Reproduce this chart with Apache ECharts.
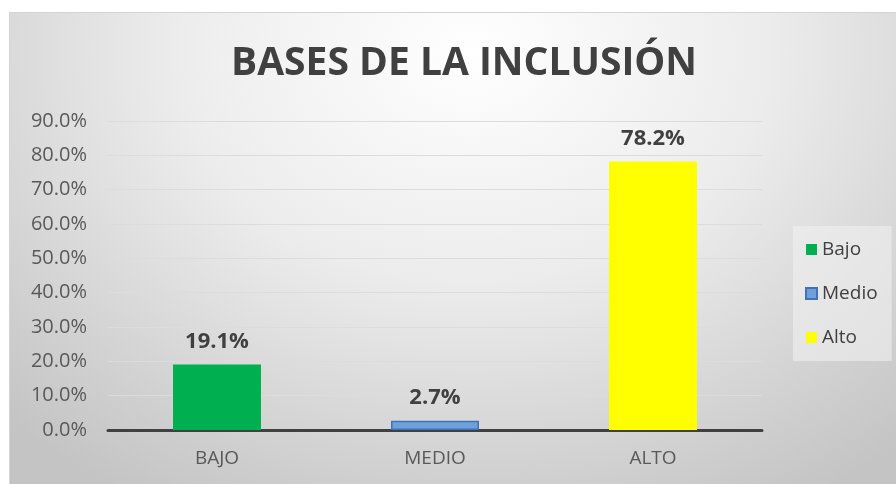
<!DOCTYPE html>
<html><head><meta charset="utf-8">
<script src="https://cdn.jsdelivr.net/npm/echarts@6/dist/echarts.min.js"></script>
<style>
html,body{margin:0;padding:0;background:#fff;}
#frame{position:absolute;left:9px;top:12px;width:886px;height:471px;border:1px solid #d4d4d4;border-right:none;border-bottom:none;
background:radial-gradient(ellipse 75% 110% at 52% 8%, #ffffff 0%, #ececec 45%, #d2d2d2 80%, #c4c4c4 100%);}
#chart{position:absolute;left:0;top:0;width:886px;height:471px;}
</style></head><body>
<div id="frame"><div id="chart"></div></div>
<script>
const titleText = 'BASES DE LA INCLUSIÓN';
const categories = ['BAJO', 'MEDIO', 'ALTO'];
const seriesNames = ['Bajo', 'Medio', 'Alto'];
const values = [19.1, 2.7, 78.2];
const yTicks = {min: 0, max: 90, interval: 10};
const colors = ['#00B050', '#6FA0DA', '#FFFF00'];

const chart = echarts.init(document.getElementById('chart'), null, {renderer: 'canvas'});
const series = seriesNames.map((name, i) => ({
  name: name,
  type: 'bar',
  stack: 'one',
  barWidth: 88,
  data: categories.map((c, j) => j === i ? values[i] : '-'),
  itemStyle: i === 1 ? {color: colors[i], borderColor: '#3F73B6', borderWidth: 1.5} : {color: colors[i]},
  label: {
    show: true, position: 'top', distance: 12,
    formatter: p => p.value.toFixed(1) + '%',
    fontFamily: 'Open Sans', fontWeight: 'bold', fontSize: 22, color: '#404040'
  }
}));
chart.setOption({
  backgroundColor: 'transparent',
  animation: false,
  graphic: [{
    type: 'text', left: 221, top: 31,
    style: {text: titleText, fontFamily: 'Open Sans', fontWeight: 'bold', fontSize: 39, fill: '#404040'}
  }],
  legend: {
    orient: 'vertical', left: 783, top: 213,
    backgroundColor: 'rgba(240,240,240,0.6)',
    padding: [14, 14, 14, 12],
    itemWidth: 11, itemHeight: 11, itemGap: 25,
    icon: 'rect',
    textStyle: {fontFamily: 'Open Sans', fontSize: 19, color: '#404040', padding: [0, 0, 0, 0]},
    data: seriesNames
  },
  grid: {left: 98, right: 134, top: 108, bottom: 54},
  xAxis: {
    type: 'category', data: categories,
    axisLine: {lineStyle: {color: '#404040', width: 3}},
    axisTick: {show: false},
    axisLabel: {fontFamily: 'Open Sans', fontSize: 19, color: '#595959', margin: 19}
  },
  yAxis: {
    type: 'value', min: yTicks.min, max: yTicks.max, interval: yTicks.interval,
    axisLine: {show: false}, axisTick: {show: false},
    splitLine: {lineStyle: {color: '#dcdcdc', width: 1}},
    axisLabel: {fontFamily: 'Open Sans', fontSize: 20, color: '#595959', margin: 21,
      formatter: v => v.toFixed(1) + '%'}
  },
  series: series
});
</script>
</body></html>
